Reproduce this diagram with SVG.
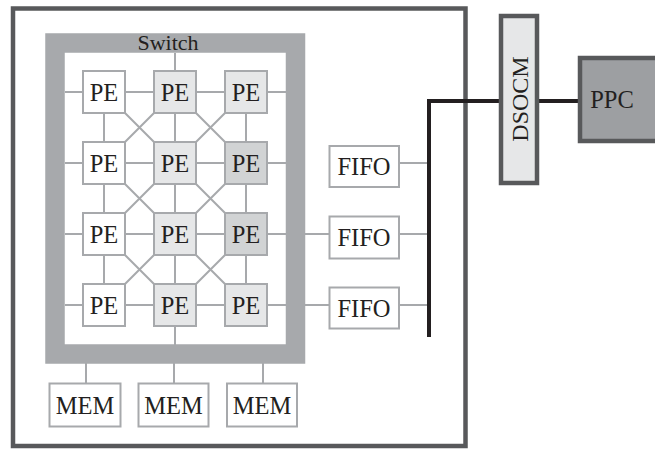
<svg xmlns="http://www.w3.org/2000/svg" width="655" height="449" viewBox="0 0 655 449">
<style>
.t{font-family:"Liberation Serif","Times New Roman",serif;fill:#231f20;text-anchor:middle;font-size:24.5px}
.box{stroke:#a7a9ac;stroke-width:2}
.w{fill:#ffffff}
.l{fill:#e6e7e8}
.d{fill:#d1d3d4}
.ln{stroke:#a7a9ac;stroke-width:2;fill:none}
.bus{stroke:#231f20;stroke-width:4;fill:none}
</style>
<rect width="655" height="449" fill="#ffffff"/>
<g id="board">
<rect x="13" y="8.5" width="452.5" height="437.5" fill="#ffffff" stroke="#58595b" stroke-width="4.5"/>
</g>
<g id="switch">
<rect x="55" y="43" width="240.5" height="311" fill="none" stroke="#a7a9ac" stroke-width="19.5"/>
<text class="t" x="168" y="50" style="font-size:22px">Switch</text>
</g>
<g id="connectors">
<path class="ln" d="M65 92H286M65 163H286M65 234H286M65 305H286"/>
<path class="ln" d="M104 113V284M175 53V345M246 113V284"/>
<path class="ln" d="M125 113L154 142M154 113L125 142M196 113L225 142M225 113L196 142
M125 184L154 213M154 184L125 213M196 184L225 213M225 184L196 213
M125 255L154 284M154 255L125 284M196 255L225 284M225 255L196 284"/>
<path class="ln" d="M86 363V383M174 363V383M263 363V383"/>
<path class="ln" d="M305 234H329M305 305H329M399 163H429M399 234H429M399 305H429"/>
<path class="bus" d="M429 337V101H500M538 101H579"/>
</g>
<g id="pe-1-1"><rect class="box w" x="83" y="71" width="42" height="42"/><text class="t" x="104" y="100.5">PE</text></g>
<g id="pe-1-2"><rect class="box l" x="154" y="71" width="42" height="42"/><text class="t" x="175" y="100.5">PE</text></g>
<g id="pe-1-3"><rect class="box l" x="225" y="71" width="42" height="42"/><text class="t" x="246" y="100.5">PE</text></g>
<g id="pe-2-1"><rect class="box w" x="83" y="142" width="42" height="42"/><text class="t" x="104" y="171.5">PE</text></g>
<g id="pe-2-2"><rect class="box l" x="154" y="142" width="42" height="42"/><text class="t" x="175" y="171.5">PE</text></g>
<g id="pe-2-3"><rect class="box d" x="225" y="142" width="42" height="42"/><text class="t" x="246" y="171.5">PE</text></g>
<g id="pe-3-1"><rect class="box w" x="83" y="213" width="42" height="42"/><text class="t" x="104" y="242.5">PE</text></g>
<g id="pe-3-2"><rect class="box l" x="154" y="213" width="42" height="42"/><text class="t" x="175" y="242.5">PE</text></g>
<g id="pe-3-3"><rect class="box d" x="225" y="213" width="42" height="42"/><text class="t" x="246" y="242.5">PE</text></g>
<g id="pe-4-1"><rect class="box w" x="83" y="284" width="42" height="42"/><text class="t" x="104" y="313.5">PE</text></g>
<g id="pe-4-2"><rect class="box l" x="154" y="284" width="42" height="42"/><text class="t" x="175" y="313.5">PE</text></g>
<g id="pe-4-3"><rect class="box l" x="225" y="284" width="42" height="42"/><text class="t" x="246" y="313.5">PE</text></g>
<g id="mem-1"><rect class="box w" x="49.5" y="383.5" width="71" height="43"/><text class="t" x="85" y="413.5">MEM</text></g>
<g id="mem-2"><rect class="box w" x="138.5" y="383.5" width="70" height="43"/><text class="t" x="173.5" y="413.5">MEM</text></g>
<g id="mem-3"><rect class="box w" x="227" y="383.5" width="70" height="43"/><text class="t" x="262" y="413.5">MEM</text></g>
<g id="fifo-1"><rect class="box w" x="329.5" y="146" width="69.5" height="41"/><text class="t" x="364" y="174.5">FIFO</text></g>
<g id="fifo-2"><rect class="box w" x="329.5" y="216.5" width="69.5" height="42"/><text class="t" x="364" y="245.5">FIFO</text></g>
<g id="fifo-3"><rect class="box w" x="329.5" y="287.5" width="69.5" height="41"/><text class="t" x="364" y="316.5">FIFO</text></g>
<g id="dsocm">
<rect x="501" y="16" width="36" height="167" fill="#e6e7e8" stroke="#58595b" stroke-width="4.5"/>
<text class="t" x="0" y="0" style="font-size:24px" transform="translate(528 99) rotate(-90)">DSOCM</text>
</g>
<g id="ppc">
<rect x="580" y="58" width="80" height="83" fill="#9d9fa2" stroke="#58595b" stroke-width="4.5"/>
<text class="t" x="612" y="108">PPC</text>
</g>
</svg>
